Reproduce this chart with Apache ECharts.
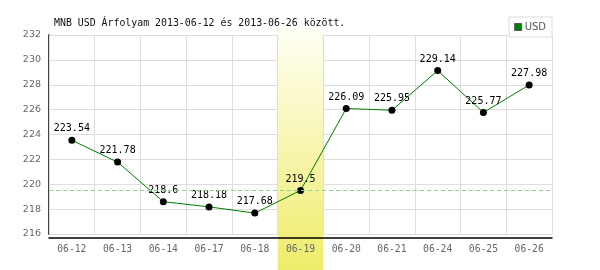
<!DOCTYPE html>
<html><head><meta charset="utf-8">
<script src="https://cdn.jsdelivr.net/npm/echarts@6/dist/echarts.min.js"></script>
<style>html,body{margin:0;padding:0;background:#fff}#c{width:600px;height:270px}</style>
</head><body><div id="c"></div>
<script>
const titleText = 'MNB USD Árfolyam 2013-06-12 és 2013-06-26 között.';
const seriesName = 'USD';
const categories = ['06-12','06-13','06-14','06-17','06-18','06-19','06-20','06-21','06-24','06-25','06-26'];
const usdValues = [223.54, 221.78, 218.6, 218.18, 217.68, 219.5, 226.09, 225.95, 229.14, 225.77, 227.98];
const highlightDay = '06-19';
const referenceValue = 219.5;
const yMin = 216, yMax = 232, yStep = 2;

const mono = 'DejaVu Sans Mono';
const chart = echarts.init(document.getElementById('c'), null, {renderer: 'canvas'});
chart.setOption({
  animation: false,
  backgroundColor: '#fff',
  title: {
    text: titleText, left: 49, top: 13,
    textStyle: {fontFamily: mono, fontSize: 9.9, fontWeight: 'normal', color: '#111'}
  },
  legend: {
    right: 48, top: 17, padding: [5, 6, 5, 5],
    backgroundColor: '#fff', borderColor: '#ddd', borderWidth: 1, borderRadius: 0,
    itemWidth: 7, itemHeight: 7, itemGap: 4,
    textStyle: {fontFamily: 'DejaVu Sans', fontSize: 10, color: '#555', padding: [0, 0, 0, -2]},
    data: [{name: seriesName, icon: 'rect', itemStyle: {color: '#008000', borderColor: '#555', borderWidth: 1}}]
  },
  grid: [
    {left: 49, right: 48, top: 35, bottom: 36},
    {left: 49, right: 48, top: 28, bottom: 0}
  ],
  xAxis: [
    {
      type: 'category', data: categories, gridIndex: 0, boundaryGap: true, offset: 4, z: 3,
      axisLine: {show: true, lineStyle: {color: '#000', width: 1.5}},
      axisTick: {show: false},
      axisLabel: {fontFamily: mono, fontSize: 9.7, color: '#666', margin: 6, interval: 0},
      splitLine: {show: true, interval: 0, lineStyle: {color: '#ddd', width: 1}}
    },
    {type: 'category', data: categories, gridIndex: 1, show: false, boundaryGap: true}
  ],
  yAxis: [
    {
      type: 'value', gridIndex: 0, min: yMin, max: yMax, interval: yStep,
      axisLine: {show: true, lineStyle: {color: '#000', width: 1.5}},
      axisTick: {show: false},
      axisLabel: {fontFamily: 'DejaVu Sans', fontSize: 9.5, color: '#666', margin: 8},
      splitLine: {show: true, lineStyle: {color: '#ddd', width: 1}}
    },
    {type: 'value', gridIndex: 1, min: 0, max: 1, show: false}
  ],
  series: [
    {
      type: 'bar', xAxisIndex: 1, yAxisIndex: 1, z: 1, silent: true,
      barWidth: '100%', legendHoverLink: false,
      data: categories.map(c => c === highlightDay ? 1 : null),
      itemStyle: {
        color: new echarts.graphic.LinearGradient(0, 0, 0, 1, [
          {offset: 0, color: '#fffff4'},
          {offset: 1, color: '#efec6a'}
        ])
      }
    },
    {
      name: seriesName, type: 'line', z: 4, data: usdValues,
      xAxisIndex: 0, yAxisIndex: 0,
      symbol: 'circle', symbolSize: 7,
      lineStyle: {color: '#008000', width: 1},
      itemStyle: {color: '#000'},
      label: {show: true, position: 'top', distance: 3, fontFamily: mono, fontSize: 10, color: '#000'},
      markLine: {
        silent: true, symbol: 'none', label: {show: false},
        lineStyle: {color: '#8fd48f', type: [4, 3], width: 1},
        data: [{yAxis: referenceValue}]
      }
    }
  ]
});
</script></body></html>
